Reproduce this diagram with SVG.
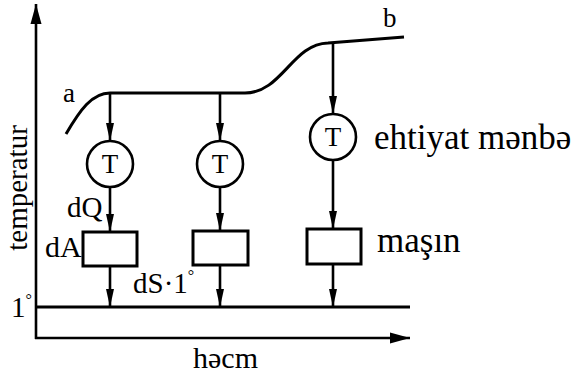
<svg xmlns="http://www.w3.org/2000/svg" width="576" height="377" viewBox="0 0 576 377">
  <style>
    .ln { fill: none; stroke: #000; stroke-width: 2.6; }
    .node { fill: #fff; stroke: #000; stroke-width: 2.6; }
    .txt { font-family: "Liberation Serif", "Times New Roman", serif; fill: #000; }
    .tc { text-anchor: middle; }
  </style>
  <defs>
    <marker id="arr" markerUnits="userSpaceOnUse" markerWidth="20" markerHeight="10" refX="18" refY="5" orient="auto">
      <path d="M0,1 L18,5 L0,9 z" fill="#000"/>
    </marker>
    <marker id="axarr" markerUnits="userSpaceOnUse" markerWidth="22" markerHeight="12" refX="20" refY="6" orient="auto">
      <path d="M0,0.5 L20,6 L0,11.5 z" fill="#000"/>
    </marker>
  </defs>

  <!-- axes -->
  <g id="axes">
    <line class="ln" x1="36" y1="339" x2="36" y2="4" marker-end="url(#axarr)"/>
    <line class="ln" x1="35" y1="338" x2="410" y2="338" marker-end="url(#axarr)"/>
    <line class="ln" x1="36" y1="307" x2="410" y2="307" style="stroke-width:3"/>
    <text class="txt tc" transform="translate(27,188) rotate(-90)" font-size="29">temperatur</text>
    <text class="txt" x="193" y="368" font-size="30">həcm</text>
    <text class="txt" x="11" y="317" font-size="29">1<tspan font-size="16" dy="-12">°</tspan></text>
  </g>

  <!-- process curve a-b -->
  <g id="curve">
    <path class="ln" d="M66,134 C80,110 92,93 110,93 L245,93 C282,93 292,44 328,43 L404,37" style="stroke-width:3"/>
    <text class="txt" x="63" y="102" font-size="27">a</text>
    <text class="txt" x="383" y="27" font-size="27">b</text>
  </g>

  <!-- connectors -->
  <g id="connectors">
    <line class="ln" x1="110" y1="93" x2="110" y2="141" marker-end="url(#arr)"/>
    <line class="ln" x1="110" y1="187" x2="110" y2="232" marker-end="url(#arr)"/>
    <line class="ln" x1="110" y1="266" x2="110" y2="307" marker-end="url(#arr)"/>
    <line class="ln" x1="220" y1="93" x2="220" y2="141" marker-end="url(#arr)"/>
    <line class="ln" x1="220" y1="187" x2="220" y2="231" marker-end="url(#arr)"/>
    <line class="ln" x1="220" y1="265" x2="220" y2="307" marker-end="url(#arr)"/>
    <line class="ln" x1="333" y1="42" x2="333" y2="114" marker-end="url(#arr)"/>
    <line class="ln" x1="333" y1="160" x2="333" y2="229" marker-end="url(#arr)"/>
    <line class="ln" x1="333" y1="264" x2="333" y2="307" marker-end="url(#arr)"/>
  </g>

  <!-- reservoirs -->
  <g id="source1">
    <circle class="node" cx="110" cy="164" r="23"/>
    <text class="txt tc" x="110" y="173" font-size="27">T</text>
  </g>
  <g id="source2">
    <circle class="node" cx="220" cy="164" r="23"/>
    <text class="txt tc" x="220" y="173" font-size="27">T</text>
  </g>
  <g id="source3">
    <circle class="node" cx="333" cy="137" r="23"/>
    <text class="txt tc" x="333" y="146" font-size="27">T</text>
    <text class="txt" x="374" y="149" font-size="35">ehtiyat mənbə</text>
  </g>

  <!-- engines -->
  <g id="engine1">
    <rect class="node" x="83" y="232" width="54" height="34" style="stroke-width:3"/>
    <text class="txt" x="67" y="217" font-size="29">dQ</text>
    <text class="txt" x="45" y="257" font-size="30">dA</text>
    <text class="txt" x="133" y="293" font-size="29">dS·1<tspan font-size="16" dy="-12">°</tspan></text>
  </g>
  <g id="engine2">
    <rect class="node" x="193" y="231" width="55" height="34" style="stroke-width:3"/>
  </g>
  <g id="engine3">
    <rect class="node" x="307" y="229" width="54" height="35" style="stroke-width:3"/>
    <text class="txt" x="377" y="252" font-size="35">maşın</text>
  </g>
</svg>
